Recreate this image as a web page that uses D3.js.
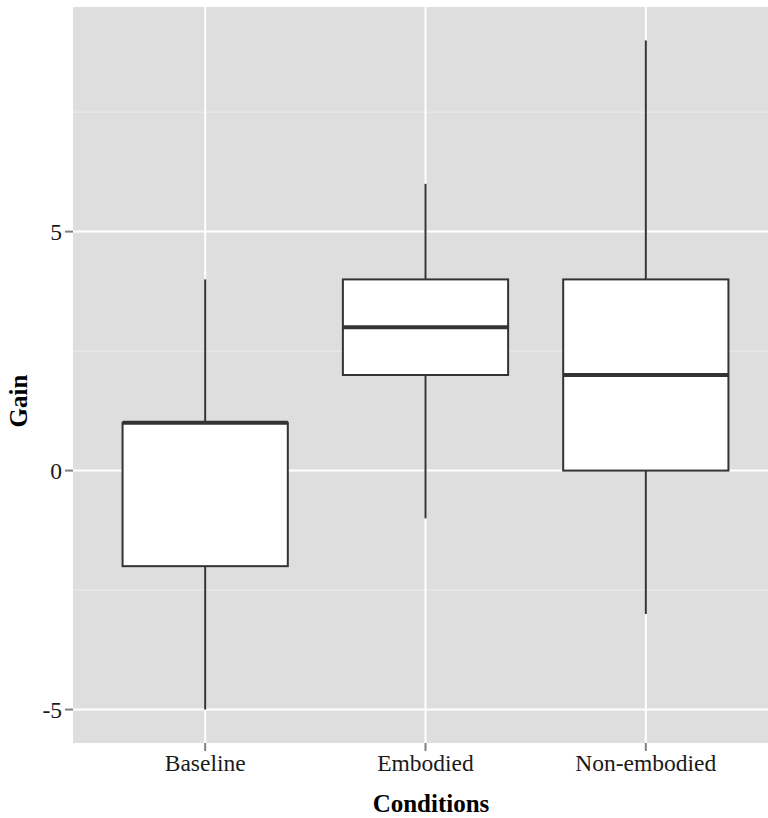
<!DOCTYPE html>
<html>
<head>
<meta charset="utf-8">
<script src="https://cdn.jsdelivr.net/npm/d3@7"></script>
<style>
  body { margin: 0; background: #fff; }
  svg { display: block; }
</style>
</head>
<body>
<div id="chart"></div>
<script>
// box plot values
const conditions = ["Baseline", "Embodied", "Non-embodied"];
const whiskerLow = [-5, -1, -3];
const q1 = [-2, 2, 0];
const medians = [1, 3, 2];
const q3 = [1, 4, 4];
const whiskerHigh = [4, 6, 9];
const yTicks = [-5, 0, 5];
const yMinor = [-2.5, 2.5, 7.5];

const width = 768, height = 818;
const panel = {left: 73, right: 778, top: 7, bottom: 743};

const svg = d3.select("#chart").append("svg")
    .attr("width", width).attr("height", height)
    .attr("viewBox", `0 0 ${width} ${height}`);

// discrete scale with ggplot-like 0.6 expansion
const x = d3.scaleLinear()
    .domain([0.4, conditions.length + 0.6])
    .range([panel.left, panel.right]);

const y = d3.scaleLinear()
    .domain([-5.7, 9.7])
    .range([panel.bottom, panel.top]);

// panel background
svg.append("rect")
    .attr("x", panel.left).attr("y", panel.top)
    .attr("width", panel.right - panel.left)
    .attr("height", panel.bottom - panel.top)
    .style("fill", "#dedede");

// minor grid
svg.append("g").selectAll("line").data(yMinor)
    .enter().append("line")
    .attr("x1", panel.left).attr("x2", panel.right)
    .attr("y1", d => y(d)).attr("y2", d => y(d))
    .style("stroke", "#ececec").style("stroke-width", 1);

// major grid
svg.append("g").selectAll("line").data(yTicks)
    .enter().append("line")
    .attr("x1", panel.left).attr("x2", panel.right)
    .attr("y1", d => y(d)).attr("y2", d => y(d))
    .style("stroke", "#fff").style("stroke-width", 2);

svg.append("g").selectAll("line").data(conditions)
    .enter().append("line")
    .attr("x1", (d, i) => x(i + 1)).attr("x2", (d, i) => x(i + 1))
    .attr("y1", panel.top).attr("y2", panel.bottom)
    .style("stroke", "#fff").style("stroke-width", 2);

// boxes
const boxW = x(1.375) - x(0.625);
const boxes = svg.append("g").selectAll("g").data(conditions)
    .enter().append("g");

boxes.append("line")
    .attr("x1", (d, i) => x(i + 1)).attr("x2", (d, i) => x(i + 1))
    .attr("y1", (d, i) => y(whiskerLow[i])).attr("y2", (d, i) => y(q1[i]))
    .style("stroke", "#333").style("stroke-width", 2);

boxes.append("line")
    .attr("x1", (d, i) => x(i + 1)).attr("x2", (d, i) => x(i + 1))
    .attr("y1", (d, i) => y(q3[i])).attr("y2", (d, i) => y(whiskerHigh[i]))
    .style("stroke", "#333").style("stroke-width", 2);

boxes.append("rect")
    .attr("x", (d, i) => x(i + 1) - boxW / 2)
    .attr("y", (d, i) => y(q3[i]))
    .attr("width", boxW)
    .attr("height", (d, i) => y(q1[i]) - y(q3[i]))
    .style("fill", "#fff")
    .style("stroke", "#333").style("stroke-width", 2);

boxes.append("line")
    .attr("x1", (d, i) => x(i + 1) - boxW / 2)
    .attr("x2", (d, i) => x(i + 1) + boxW / 2)
    .attr("y1", (d, i) => y(medians[i])).attr("y2", (d, i) => y(medians[i]))
    .style("stroke", "#333").style("stroke-width", 4);

// y axis
const yAxis = svg.append("g");
yAxis.selectAll("line").data(yTicks)
    .enter().append("line")
    .attr("x1", panel.left - 8).attr("x2", panel.left)
    .attr("y1", d => y(d)).attr("y2", d => y(d))
    .style("stroke", "#7f7f7f").style("stroke-width", 2);
yAxis.selectAll("text").data(yTicks)
    .enter().append("text")
    .attr("x", panel.left - 11)
    .attr("y", d => y(d))
    .attr("dy", "0.35em")
    .attr("text-anchor", "end")
    .style("font-family", "'Liberation Serif', 'Times New Roman', serif")
    .style("font-size", "23.5px")
    .style("fill", "#1a1a1a")
    .text(d => d);

// x axis
const xAxis = svg.append("g");
xAxis.selectAll("line").data(conditions)
    .enter().append("line")
    .attr("x1", (d, i) => x(i + 1)).attr("x2", (d, i) => x(i + 1))
    .attr("y1", panel.bottom).attr("y2", panel.bottom + 8)
    .style("stroke", "#7f7f7f").style("stroke-width", 2);
xAxis.selectAll("text").data(conditions)
    .enter().append("text")
    .attr("x", (d, i) => x(i + 1))
    .attr("y", 771)
    .attr("text-anchor", "middle")
    .style("font-family", "'Liberation Serif', 'Times New Roman', serif")
    .style("font-size", "23.5px")
    .style("fill", "#1a1a1a")
    .text(d => d);

// axis titles
svg.append("text")
    .attr("x", 431).attr("y", 812)
    .attr("text-anchor", "middle")
    .style("font-family", "'Liberation Serif', 'Times New Roman', serif")
    .style("font-size", "25px").style("font-weight", "bold")
    .text("Conditions");

svg.append("text")
    .attr("transform", "translate(27,401) rotate(-90)")
    .attr("text-anchor", "middle")
    .style("font-family", "'Liberation Serif', 'Times New Roman', serif")
    .style("font-size", "25px").style("font-weight", "bold")
    .text("Gain");
</script>
</body>
</html>
